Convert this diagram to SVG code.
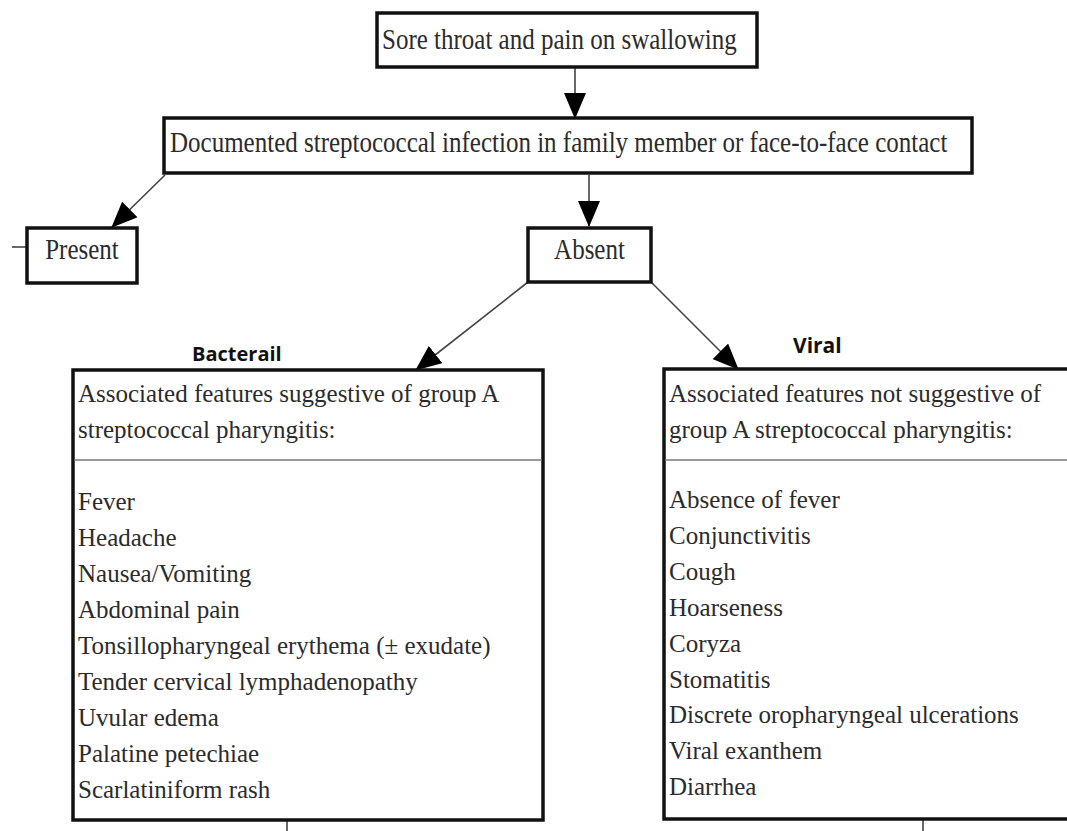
<svg xmlns="http://www.w3.org/2000/svg" width="1067" height="831" viewBox="0 0 1067 831">
<defs>
<style>
.box{fill:#fff;stroke:#111;stroke-width:3.5}
.t{font-family:"Liberation Serif","Times New Roman",serif;font-size:25px;fill:#2b2b2b}
.lbl{font-family:"Open Sans","Liberation Sans",sans-serif;font-weight:bold;fill:#111}
.conn{stroke:#444;stroke-width:1.6;fill:none}
.sep{stroke:#777;stroke-width:1.6}
</style>
<marker id="ah" markerUnits="userSpaceOnUse" markerWidth="26" markerHeight="22" refX="25" refY="11" orient="auto" viewBox="0 0 26 22">
<path d="M0,0 L26,11 L0,22 Z" fill="#000"/>
</marker>
</defs>
<rect width="1067" height="831" fill="#fff"/>
<g id="connectors">
<line class="conn" x1="575" y1="67" x2="575" y2="118" marker-end="url(#ah)"/>
<line class="conn" x1="165" y1="175" x2="112" y2="227" marker-end="url(#ah)"/>
<line class="conn" x1="589" y1="175" x2="589" y2="226" marker-end="url(#ah)"/>
<line class="conn" x1="528" y1="282" x2="416" y2="370" marker-end="url(#ah)"/>
<line class="conn" x1="651" y1="282" x2="738" y2="369" marker-end="url(#ah)"/>
<line class="conn" x1="12" y1="247" x2="27" y2="247"/>
<line class="conn" x1="287" y1="820" x2="287" y2="831"/>
<line class="conn" x1="923" y1="819" x2="923" y2="831"/>
</g>
<g id="n-sore">
<rect class="box" x="377" y="13" width="380" height="54"/>
<text class="t" transform="translate(382,49) scale(1,1.22)">Sore throat and pain on swallowing</text>
</g>
<g id="n-documented">
<rect class="box" x="164" y="118" width="808" height="55"/>
<text class="t" transform="translate(170,152) scale(1,1.15)">Documented streptococcal infection in family member or face-to-face contact</text>
</g>
<g id="n-present">
<rect class="box" x="27" y="228" width="110" height="55"/>
<text class="t" text-anchor="middle" transform="translate(82,259) scale(1,1.15)">Present</text>
</g>
<g id="n-absent">
<rect class="box" x="528" y="228" width="123" height="54"/>
<text class="t" text-anchor="middle" transform="translate(589.5,259) scale(1,1.15)">Absent</text>
</g>
<g id="n-bacterial">
<text class="lbl" x="192" y="361" font-size="20">Bacterail</text>
<rect class="box" x="73" y="370" width="470" height="450"/>
<line class="sep" x1="74" y1="460" x2="542" y2="460"/>
<text class="t" x="78" y="402">Associated features suggestive of group A</text>
<text class="t" x="78" y="438">streptococcal pharyngitis:</text>
<text class="t" x="78" y="510">Fever</text>
<text class="t" x="78" y="546">Headache</text>
<text class="t" x="78" y="582">Nausea/Vomiting</text>
<text class="t" x="78" y="618">Abdominal pain</text>
<text class="t" x="78" y="654">Tonsillopharyngeal erythema (± exudate)</text>
<text class="t" x="78" y="690">Tender cervical lymphadenopathy</text>
<text class="t" x="78" y="726">Uvular edema</text>
<text class="t" x="78" y="762">Palatine petechiae</text>
<text class="t" x="78" y="798">Scarlatiniform rash</text>
</g>
<g id="n-viral">
<text class="lbl" x="793" y="353" font-size="21">Viral</text>
<rect class="box" x="664" y="369" width="420" height="450"/>
<line class="sep" x1="665" y1="460" x2="1067" y2="460"/>
<text class="t" x="669" y="402">Associated features not suggestive of</text>
<text class="t" x="669" y="438">group A streptococcal pharyngitis:</text>
<text class="t" x="669" y="508">Absence of fever</text>
<text class="t" x="669" y="544">Conjunctivitis</text>
<text class="t" x="669" y="580">Cough</text>
<text class="t" x="669" y="616">Hoarseness</text>
<text class="t" x="669" y="652">Coryza</text>
<text class="t" x="669" y="688">Stomatitis</text>
<text class="t" x="669" y="723">Discrete oropharyngeal ulcerations</text>
<text class="t" x="669" y="759">Viral exanthem</text>
<text class="t" x="669" y="795">Diarrhea</text>
</g>
</svg>
